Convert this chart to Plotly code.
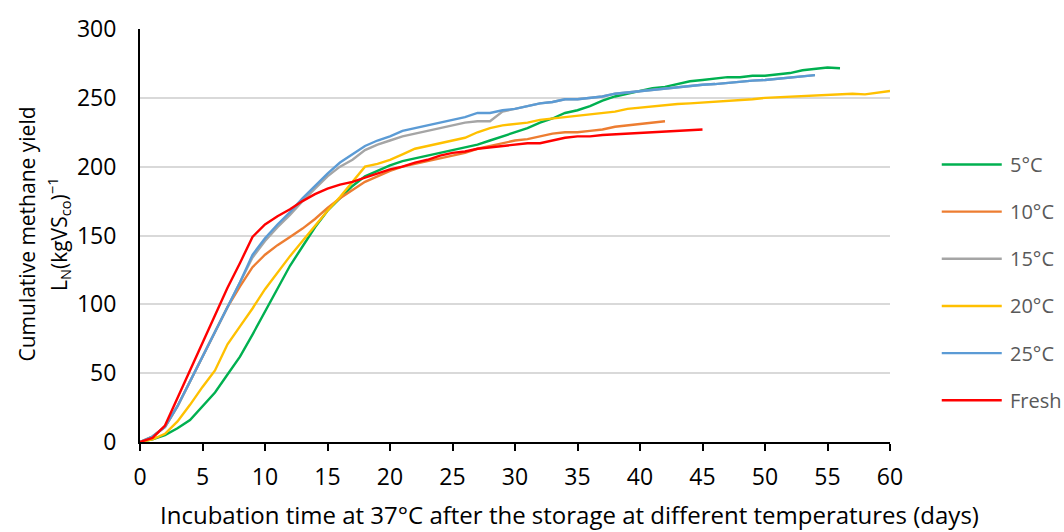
import plotly.graph_objects as go

# Incubation days (daily readings)
days = list(range(0, 61))

# Cumulative methane yield, L_N (kg VS_co)^-1, per storage temperature
yield_5c = [0, 2, 5, 10, 16, 26, 36, 49, 62, 78, 95, 112, 128, 142, 156, 168, 177, 186, 193, 197,
            201, 204, 206, 208, 210, 212, 214, 216, 219, 222, 225, 228, 232, 235, 239, 241, 244, 248,
            251, 253, 255, 257, 258, 260, 262, 263, 264, 265, 265, 266, 266, 267, 268, 270, 271, 272,
            271.5]
yield_10c = [0, 4, 11, 26, 44, 62, 80, 98, 113, 127, 136, 143, 149, 155, 162, 170, 177, 183, 189,
             193, 197, 200, 202, 204, 206, 208, 210, 213, 215, 217, 219, 220, 222, 224, 225, 225,
             226, 227, 229, 230, 231, 232, 233]
yield_15c = [0, 4, 11, 26, 44, 62, 80, 98, 115, 134, 146, 156, 165, 175, 184, 193, 200, 205, 212,
             216, 219, 222, 224, 226, 228, 230, 232, 233, 233, 240, 242, 244, 246, 247, 249, 249,
             250, 251, 253, 254, 255, 256, 257, 258, 259, 259.5, 260, 261, 262, 262.5, 263, 264,
             265, 266, 266.5]
yield_20c = [0, 2, 6, 15, 27, 40, 52, 71, 84, 97, 111, 123, 135, 146, 157, 168, 178, 189, 200, 202,
             205, 209, 213, 215, 217, 219, 221, 225, 228, 230, 231, 232, 234, 235, 236, 237, 238,
             239, 240, 242, 243, 244, 245, 245.5, 246, 246.5, 247, 247.5, 248, 249, 250, 250.5, 251,
             251.5, 252, 252, 253, 253, 252.5, 254, 255]
yield_25c = [0, 4, 11, 26, 44, 62, 80, 98, 116, 136, 148, 158, 167, 177, 186, 195, 203, 209, 215,
             219, 222, 226, 228, 230, 232, 234, 236, 239, 239, 241, 242, 244, 246, 247, 249, 249,
             250, 251, 253, 254, 255, 256, 257, 258, 259, 259.5, 260, 261, 262, 262.5, 263, 264,
             265, 266, 266.5]
yield_fresh = [0, 3, 12, 32, 52, 73, 93, 112, 130, 149, 158, 164, 169, 175, 180, 184, 187, 189, 192,
               195, 198, 200, 203, 205, 208, 210, 211, 213, 214, 215, 216, 217, 217, 219, 221, 222,
               222, 223, 223.5, 224, 224.5, 225, 226, 226.5, 227, 227]

series_names = ["5°C", "10°C", "15°C", "20°C", "25°C", "Fresh"]
series_values = [yield_5c, yield_10c, yield_15c, yield_20c, yield_25c, yield_fresh]
series_colors = ["#00B050", "#ED7D31", "#A5A5A5", "#FFC000", "#5B9BD5", "#FF0000"]

x_ticks = list(range(0, 61, 5))
y_ticks = list(range(0, 301, 50))

x_title = "Incubation time at 37°C after the storage at different temperatures (days)"
y_title_1 = "Cumulative methane yield"
y_title_2 = "L<sub>N</sub>(kgVS<sub>co</sub>)<sup>−1</sup>"

FONT = "Open Sans"

fig = go.Figure()
for name, vals, color in zip(series_names, series_values, series_colors):
    fig.add_trace(go.Scatter(
        x=days[:len(vals)], y=vals, name=name, mode="lines",
        line=dict(color=color, width=2.4),
        showlegend=False,
    ))

# Key to the right of the plot: a short line sample and a label per series
key_top, key_step = 0.672, 0.1142
key_x0, key_x1, key_text_x = 1.069, 1.149, 1.157
for i, (name, color) in enumerate(zip(series_names, series_colors)):
    ky = key_top - i * key_step
    fig.add_shape(type="line", xref="paper", yref="paper",
                  x0=key_x0, x1=key_x1, y0=ky, y1=ky,
                  line=dict(color=color, width=2.4))
    fig.add_annotation(xref="paper", yref="paper", x=key_text_x, y=ky,
                       xanchor="left", yanchor="middle", showarrow=False,
                       text=name, font=dict(family=FONT, size=20, color="#595959"))

# Axis titles
fig.add_annotation(xref="paper", yref="paper", x=0.5733, y=-0.176,
                   xanchor="center", yanchor="middle", showarrow=False,
                   text=x_title, font=dict(family=FONT, size=24, color="#000000"))
fig.add_annotation(xref="paper", yref="paper", x=-0.1513, y=0.5036,
                   xanchor="center", yanchor="middle", showarrow=False, textangle=-90,
                   text=y_title_1, font=dict(family=FONT, size=21, color="#000000"))
fig.add_annotation(xref="paper", yref="paper", x=-0.1093, y=0.5036,
                   xanchor="center", yanchor="middle", showarrow=False, textangle=-90,
                   text=y_title_2, font=dict(family=FONT, size=21, color="#000000"))

fig.update_layout(
    width=1064, height=532,
    margin=dict(l=140, r=174, t=27, b=90),
    paper_bgcolor="white", plot_bgcolor="white",
    font=dict(family=FONT, color="#000000", size=21),
    showlegend=False,
    xaxis=dict(
        range=[0, 60], tickvals=x_ticks, ticktext=[str(t) for t in x_ticks],
        showgrid=False, zeroline=False,
        showline=True, linecolor="#000000", linewidth=2,
        ticks="outside", ticklen=7, tickwidth=2, tickcolor="#000000",
        ticklabelstandoff=6,
        tickfont=dict(family=FONT, size=23, color="#000000"),
    ),
    yaxis=dict(
        range=[0, 300], tickvals=y_ticks, ticktext=[str(t) for t in y_ticks],
        showgrid=True, gridcolor="#D9D9D9", gridwidth=2, zeroline=False,
        showline=True, linecolor="#000000", linewidth=2,
        ticks="", ticklabelstandoff=17,
        tickfont=dict(family=FONT, size=23, color="#000000"),
    ),
)

fig.write_html("out.html")
